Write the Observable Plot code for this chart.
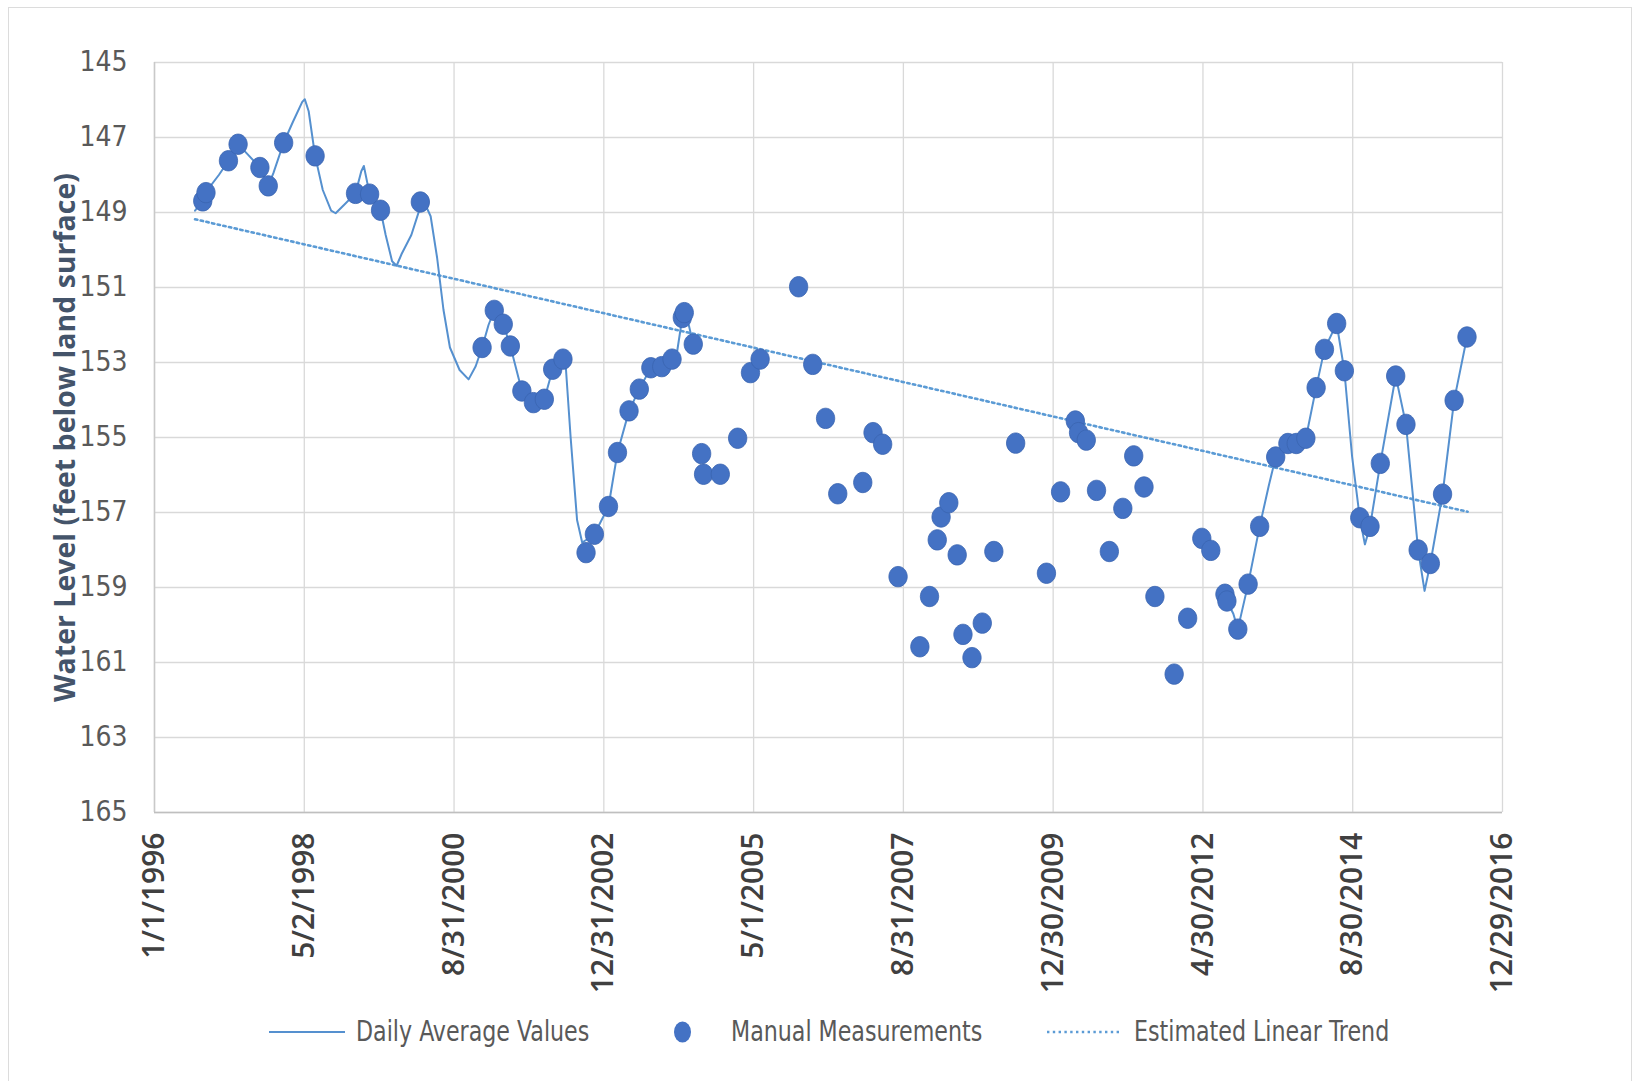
<!DOCTYPE html>
<html>
<head>
<meta charset="utf-8">
<script src="https://cdn.jsdelivr.net/npm/d3@7"></script>
<script src="https://cdn.jsdelivr.net/npm/@observablehq/plot@0.6"></script>
<style>
  html, body { margin: 0; padding: 0; background: #fff; overflow: hidden; }
  body { width: 1638px; height: 1081px; position: relative; }
  #frame { position: absolute; left: 8px; top: 7px; width: 1624px; height: 1100px; border: 1.5px solid #dcdcdc; box-sizing: border-box; }
  #chart { position: absolute; left: 0; top: 0; }
  #legend { position: absolute; left: 0; top: 1012px; width: 1638px; height: 40px; font-family: "Liberation Sans Narrow", "DejaVu Sans Condensed", "Roboto", sans-serif; font-size: 28px; color: #595959; }
  #legend .item { position: absolute; top: 0; height: 40px; line-height: 40px; white-space: nowrap; transform: scaleX(0.88); transform-origin: left center; }
  #legend svg { position: absolute; top: 0; }
</style>
</head>
<body>
<div id="frame"></div>
<div id="chart"></div>
<div id="legend"></div>
<script>
// ---- Data ----
const xTickLabels = ["1/1/1996","5/2/1998","8/31/2000","12/31/2002","5/1/2005","8/31/2007","12/30/2009","4/30/2012","8/30/2014","12/29/2016"];
const yTicks = [145,147,149,151,153,155,157,159,161,163,165];
const yTitle = "Water Level (feet below land surface)";
const seriesNames = ["Daily Average Values", "Manual Measurements", "Estimated Linear Trend"];

// Daily average values (decimal year, feet below land surface); null = gap in record
const dailyYears = [1996.63,1996.72,1996.80,1997.00,1997.15,1997.30,1997.45,1997.64,1997.77,1997.85,1998.01,1998.15,1998.30,1998.34,1998.40,1998.50,1998.62,1998.75,1998.82,1998.95,1999.13,1999.22,1999.26,1999.35,1999.52,1999.60,1999.70,1999.77,1999.85,2000.00,2000.14,2000.22,2000.30,2000.40,2000.50,2000.60,2000.75,2000.89,2001.00,2001.10,2001.20,2001.29,2001.43,2001.54,2001.72,2001.90,2002.07,2002.20,2002.33,2002.40,2002.48,2002.58,2002.66,2002.75,2002.85,2003.07,2003.21,2003.39,2003.55,2003.73,2003.90,2004.06,2004.14,2004.22,2004.25,2004.32,2004.39,
  2008.5,
  2012.67,2012.70,2012.80,2012.87,2013.03,2013.21,2013.35,2013.46,2013.65,2013.78,2013.93,2014.09,2014.22,2014.41,2014.53,2014.65,2014.77,2014.85,2014.93,2015.09,2015.33,2015.49,2015.68,2015.78,2015.87,2016.06,2016.24,2016.44];
const dailyValues = [148.95,148.75,148.45,148.00,147.62,147.18,147.45,147.80,148.29,147.95,147.14,146.60,146.05,145.98,146.30,147.49,148.40,148.95,149.02,148.80,148.49,147.90,147.76,148.51,148.94,149.60,150.30,150.42,150.10,149.60,148.85,148.80,149.10,150.20,151.60,152.60,153.20,153.45,153.10,152.60,152.00,151.61,151.98,152.56,153.76,154.07,153.98,153.18,152.80,153.00,155.00,157.20,157.80,157.70,157.58,156.84,155.40,154.29,153.71,153.14,153.11,152.91,152.70,151.80,151.67,152.00,152.51,
  null,
  159.18,159.36,159.70,160.11,158.91,157.37,156.30,155.52,155.16,155.16,155.02,153.67,152.65,151.96,153.22,155.50,157.14,157.85,157.37,155.69,153.36,154.65,158.00,159.09,158.36,156.51,154.01,152.32];

// Manual measurements (decimal year, feet below land surface)
const manualYears = [1996.75,1996.80,1997.15,1997.30,1997.64,1997.77,1998.01,1998.50,1999.13,1999.35,1999.52,2000.14,2001.10,2001.29,2001.43,2001.54,2001.72,2001.90,2002.07,2002.20,2002.36,2002.72,2002.85,2003.07,2003.21,2003.39,2003.55,2003.73,2003.90,2004.06,2004.22,2004.25,2004.39,2004.52,2004.55,2004.81,2005.08,2005.28,2005.43,2006.03,2006.25,2006.45,2006.64,2007.03,2007.19,2007.34,2007.58,2007.92,2008.07,2008.19,2008.25,2008.37,2008.50,2008.59,2008.73,2008.89,2009.07,2009.41,2009.89,2010.11,2010.34,2010.39,2010.51,2010.67,2010.87,2011.08,2011.25,2011.41,2011.58,2011.88,2012.09,2012.31,2012.45,2012.67,2012.70,2012.87,2013.03,2013.21,2013.46,2013.65,2013.78,2013.93,2014.09,2014.22,2014.41,2014.53,2014.77,2014.93,2015.09,2015.33,2015.49,2015.68,2015.87,2016.06,2016.24,2016.44];
const manualValues = [148.69,148.47,147.62,147.18,147.80,148.29,147.14,147.49,148.49,148.51,148.94,148.72,152.60,151.61,151.98,152.56,153.76,154.07,153.98,153.18,152.91,158.07,157.58,156.84,155.40,154.29,153.71,153.14,153.11,152.91,151.80,151.67,152.51,155.43,155.98,155.98,155.02,153.27,152.91,150.98,153.05,154.49,156.50,156.20,154.87,155.18,158.71,160.58,159.24,157.73,157.12,156.74,158.13,160.25,160.87,159.95,158.04,155.15,158.62,156.45,154.56,154.87,155.07,156.41,158.04,156.89,155.49,156.32,159.24,161.31,159.82,157.69,158.01,159.18,159.36,160.11,158.91,157.37,155.52,155.16,155.16,155.02,153.67,152.65,151.96,153.22,157.14,157.37,155.69,153.36,154.65,158.00,158.36,156.51,154.01,152.32];

// Estimated linear trend end points
const trendYears = [1996.63, 2016.45];
const trendValues = [149.18, 156.98];

// ---- helpers ----
const parseMDY = s => { const [m, d, y] = s.split("/").map(Number); return new Date(Date.UTC(y, m - 1, d)); };
const fromDecYear = v => { const y = Math.floor(v); const a = Date.UTC(y, 0, 1), b = Date.UTC(y + 1, 0, 1); return new Date(a + (v - y) * (b - a)); };
const xTickDates = xTickLabels.map(parseMDY);
const fmt = d3.utcFormat("%-m/%-d/%Y");

const daily = dailyYears.map((t, i) => ({date: fromDecYear(t), value: dailyValues[i]}));
const manual = manualYears.map((t, i) => ({date: fromDecYear(t), value: manualValues[i]}));
const trend = trendYears.map((t, i) => ({date: fromDecYear(t), value: trendValues[i]}));

const K = 0.5523;
const ellipse = {
  draw(ctx, size) {
    const r = Math.sqrt(size / Math.PI);
    const rx = r * 0.9, ry = r;
    ctx.moveTo(rx, 0);
    ctx.bezierCurveTo(rx, K * ry, K * rx, ry, 0, ry);
    ctx.bezierCurveTo(-K * rx, ry, -rx, K * ry, -rx, 0);
    ctx.bezierCurveTo(-rx, -K * ry, -K * rx, -ry, 0, -ry);
    ctx.bezierCurveTo(K * rx, -ry, rx, -K * ry, rx, 0);
    ctx.closePath();
  }
};

const lineColor = "#5590CF";
const dotColor = "#4472C4";
const trendColor = "#5B9BD5";

const chart = Plot.plot({
  width: 1638,
  height: 990,
  marginLeft: 154,
  marginRight: 136,
  marginTop: 62,
  marginBottom: 178,
  style: {background: "transparent", overflow: "visible"},
  x: {type: "utc", domain: [xTickDates[0], xTickDates[xTickDates.length - 1]]},
  y: {domain: [145, 165], reverse: true},
  marks: [
    Plot.gridY(yTicks, {stroke: "#d9d9d9", strokeOpacity: 1, strokeWidth: 1.3}),
    Plot.gridX(xTickDates, {stroke: "#d9d9d9", strokeOpacity: 1, strokeWidth: 1.3}),
    Plot.ruleX([xTickDates[0]], {stroke: "#c9c9c9", strokeWidth: 1.5}),
    Plot.ruleY([165], {stroke: "#bfbfbf", strokeWidth: 1.6}),
    Plot.axisY({ticks: yTicks, tickSize: 0, tickPadding: 27, tickFormat: d => String(d), label: null,
      fontSize: 28, fill: "#595959", fontFamily: "Liberation Sans Narrow, DejaVu Sans Condensed, Roboto, sans-serif"}),
    Plot.axisX({ticks: xTickDates, tickSize: 0, tickPadding: 20, tickRotate: -90, tickFormat: fmt, label: null,
      fontSize: 30, fontWeight: 600, fill: "#404040", fontFamily: "Open Sans, sans-serif"}),
    Plot.text([yTitle], {frameAnchor: "left", textAnchor: "middle", rotate: -90, dx: -89, fontSize: 28.5, fontWeight: 700,
      fill: "#44546A", fontFamily: "Open Sans, sans-serif"}),
    Plot.line(trend, {x: "date", y: "value", stroke: trendColor, strokeWidth: 2.6, strokeDasharray: "2.4,3.4"}),
    Plot.line(daily, {x: "date", y: "value", stroke: lineColor, strokeWidth: 2, curve: "linear"}),
    Plot.dot(manual, {x: "date", y: "value", r: 10.2, symbol: ellipse, fill: dotColor, stroke: "#3A64B0", strokeWidth: 0.8})
  ]
});
document.getElementById("chart").appendChild(chart);

// ---- legend ----
const legend = document.getElementById("legend");
legend.innerHTML = `
  <svg style="left:269px" width="78" height="40"><line x1="0" x2="76" y1="20" y2="20" stroke="${lineColor}" stroke-width="2"/></svg>
  <span class="item" style="left:356px">${seriesNames[0]}</span>
  <svg style="left:670px" width="26" height="40"><ellipse cx="12.5" cy="20" rx="8.5" ry="10.5" fill="${dotColor}"/></svg>
  <span class="item" style="left:731px">${seriesNames[1]}</span>
  <svg style="left:1047px" width="76" height="40"><line x1="0" x2="74" y1="20" y2="20" stroke="${trendColor}" stroke-width="2.6" stroke-dasharray="2.4,3.4"/></svg>
  <span class="item" style="left:1134px">${seriesNames[2]}</span>`;
</script>
</body>
</html>
